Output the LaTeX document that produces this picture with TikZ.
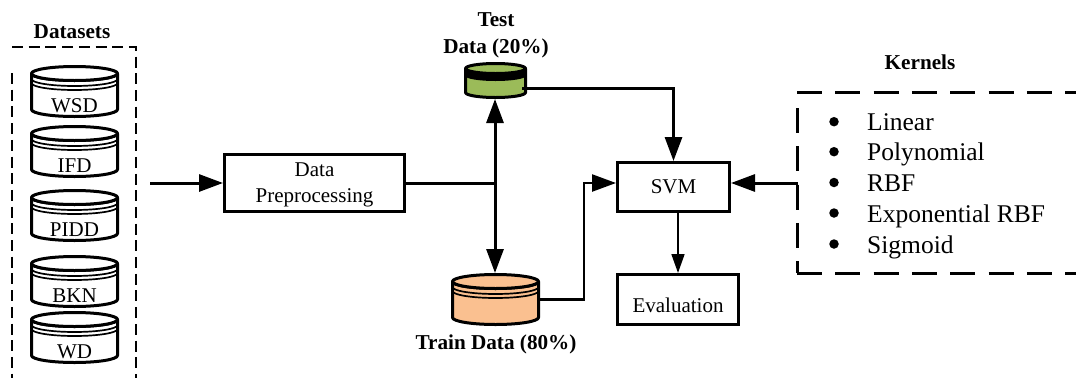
\documentclass[tikz,border=0pt]{standalone}
\usepackage{fontspec}
\setmainfont{Liberation Serif}
\usetikzlibrary{arrows.meta}
\definecolor{testgreen}{HTML}{9BBB59}
\definecolor{trainorange}{HTML}{FAC090}
\tikzset{
	boxnode/.style={draw,line width=3pt,inner sep=0pt,align=center,font=\fontsize{21}{26}\selectfont},
	dbline/.style={line width=3pt,line join=round},
	ribline/.style={line width=1.7pt},
	dblabel/.style={anchor=base,inner sep=0pt,font=\fontsize{21}{26}\selectfont},
	headlabel/.style={inner sep=0pt,align=center,font=\fontsize{21.2}{27}\selectfont\bfseries},
	kernelitem/.style={anchor=base west,inner sep=0pt,font=\fontsize{25.5}{28}\selectfont},
	kerneldot/.style={circle,fill,inner sep=0pt,minimum size=9.5pt},
	connector/.style={line width=3pt},
	setframe/.style={line width=2pt,dash pattern=on 11pt off 5.7pt},
	kernelframe/.style={line width=3pt,dash pattern=on 25pt off 13.3pt}
}
% name, centre x, top y, fill
\newcommand{\dbdisk}[4]{
	\draw [dbline,fill=#4] (#2-43,#3+8.5) arc [start angle=180,end angle=360,x radius=43pt,y radius=7pt]
	-- (#2+43,#3+44.5) arc [start angle=0,end angle=-180,x radius=43pt,y radius=7pt] -- cycle;
	\draw [dbline,fill=#4] (#2,#3+8.5) ellipse [x radius=43pt,y radius=7pt];
	\draw [ribline] (#2-43,#3+14) arc [start angle=180,end angle=360,x radius=43pt,y radius=7pt];
	\draw [ribline] (#2-43,#3+18) arc [start angle=180,end angle=360,x radius=43pt,y radius=7pt];
	\node [minimum width=89pt,minimum height=53pt,inner sep=0pt,outer sep=0pt] (#1) at (#2,#3+26.5) {};
}
\begin{document}
\begin{tikzpicture}[x=1pt,y=-1pt,>={Triangle[length=24pt,width=17pt]},line cap=butt]
	\useasboundingbox (0,0) rectangle (1076,378);
	\draw [setframe] (12,47)--(136,47)--(136,378);
	\draw [setframe] (12,73)--(12,378);
	\node [headlabel] (datasets) at (72,32) {Datasets};
	\dbdisk{wsd}{74.5}{65}{white}
	\dbdisk{ifd}{74.5}{125}{white}
	\dbdisk{pidd}{74.5}{189}{white}
	\dbdisk{bkn}{74.5}{255}{white}
	\dbdisk{wd}{74.5}{311}{white}
	\node [dblabel] (wsdlabel) at (74.5,112) {WSD};
	\node [dblabel] (ifdlabel) at (74.5,172) {IFD};
	\node [dblabel] (piddlabel) at (74.5,236) {PIDD};
	\node [dblabel] (bknlabel) at (74.5,302) {BKN};
	\node [dblabel] (wdlabel) at (74.5,358) {WD};
	\node [boxnode,minimum width=180pt,minimum height=57pt] (prep) at (314.5,183) {\rule{0pt}{17pt}Data\\Preprocessing};
	\node [boxnode,minimum width=112pt,minimum height=49pt] (svm) at (673.5,187) {SVM};
	\node [boxnode,text width=121pt,text height=37.5pt,text depth=12.5pt] (eval) at (678,299.5) {Evaluation};
	% test data disk
	\draw [dbline,fill=testgreen] (465.5,68.5) -- (465.5,92.5) arc [start angle=180,end angle=360,x radius=30pt,y radius=5pt] -- (525.5,68.5);
	\fill (465.5,68.5) arc [start angle=180,end angle=360,x radius=30pt,y radius=5pt] -- (525.5,76) arc [start angle=0,end angle=-180,x radius=30pt,y radius=5pt] -- cycle;
	\draw [dbline,fill=testgreen] (495.5,68.5) ellipse [x radius=30pt,y radius=5pt];
	\node [minimum width=63pt,minimum height=37pt,inner sep=0pt,outer sep=0pt] (testdb) at (495.5,80.5) {};
	\dbdisk{traindb}{495.5}{273}{trainorange}
	\node [headlabel] (testlabel) at (496,35) {Test\\Data (20\%)};
	\node [headlabel] (trainlabel) at (496,344.5) {Train Data (80\%)};
	\node [headlabel] (kernels) at (920,62) {Kernels};
	\draw [kernelframe] (797,92)--(1076,92);
	\draw [kernelframe] (797,108)--(797,273);
	\draw [kernelframe] (797,273)--(1076,273);
	\node [kerneldot] (dotlinear) at (834,121.7) {};
	\node [kerneldot] (dotpoly) at (834,151.7) {};
	\node [kerneldot] (dotrbf) at (834,182.5) {};
	\node [kerneldot] (dotexp) at (834,213) {};
	\node [kerneldot] (dotsig) at (834,244) {};
	\node [kernelitem] (linear) at (867,130) {Linear};
	\node [kernelitem] (poly) at (867,160) {Polynomial};
	\node [kernelitem] (rbf) at (867,191) {RBF};
	\node [kernelitem] (exprbf) at (867,222) {Exponential RBF};
	\node [kernelitem] (sigmoid) at (867,253) {Sigmoid};
	\coordinate (setsout) at (150,183);
	\coordinate (split) at (495,183);
	\coordinate (testout) at (522,88);
	\coordinate (trainbend) at (584,183);
	\coordinate (kernelout) at (798,183);
	\draw [connector,->] (setsout)--(prep.west);
	\draw [connector] (prep.east)--(split);
	\draw [connector,->] (split)--(split|-testdb.south);
	\draw [connector,->] (split)--(split|-traindb.north);
	\draw [connector,->] (testout)-|(svm.north);
	\draw [connector,line width=2.4pt,->] (traindb.east)-|(trainbend)--(svm.west|-trainbend);
	\draw [connector,->] (kernelout)--(svm.east|-kernelout);
	\draw [line width=1.7pt,-{Triangle[length=19pt,width=13pt]}] (eval.north|-svm.south)--(eval.north);
\end{tikzpicture}
\end{document}
